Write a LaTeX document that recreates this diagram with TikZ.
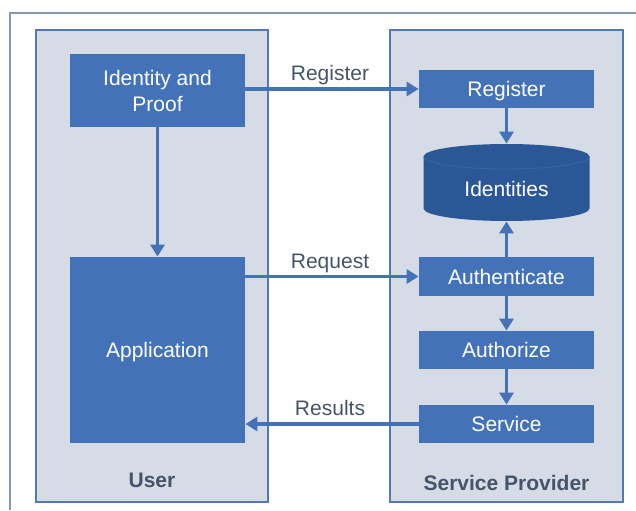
\documentclass[tikz,border=0pt]{standalone}
\usepackage{fontspec}
\setmainfont{Liberation Sans}
\usetikzlibrary{arrows.meta}
\definecolor{boxblue}{HTML}{4472B8}
\definecolor{cylblue}{HTML}{2B5797}
\definecolor{cylrim}{HTML}{3A64A6}
\definecolor{panelfill}{HTML}{D6DCE5}
\definecolor{panelline}{HTML}{5478B6}
\definecolor{labelgray}{HTML}{44546A}
\definecolor{framegray}{HTML}{8496B0}
\begin{document}
\begin{tikzpicture}[x=0.5pt,y=0.5pt,
    every node/.style={font=\fontsize{10.5}{13}\selectfont},
    panel/.style={draw=panelline,line width=0.6pt,fill=panelfill,minimum height=236pt,inner sep=0pt},
    block/.style={fill=boxblue,text=white,minimum width=87.5pt,inner sep=0pt,text depth=0pt,align=center},
    flow/.style={draw=boxblue,line width=1.8pt,-{Triangle[length=6pt,width=7pt]}},
    msg/.style={text=labelgray,anchor=base,yshift=4.2pt,xshift=-1pt,inner sep=0pt},
    caption/.style={text=labelgray,font=\fontsize{10.5}{13}\selectfont\bfseries}]
  \useasboundingbox (0,0) rectangle (636,510);
  \draw[framegray,line width=0.8pt] (10,0) -- (10,497) -- (636,497);
  % the two sides
  \node[panel,minimum width=116pt] (userpanel) at (152,244) {};
  \node[panel,minimum width=116.5pt] (sppanel) at (506.5,244) {};
  \node[caption] (userlbl) at (152,30) {User};
  \node[caption] (splbl) at (506.5,27) {Service Provider};
  % user side
  \node[block,minimum height=36.5pt] (idp) at (157.5,419.5) {Identity and\\Proof};
  \node[block,minimum height=93pt] (app) at (157.5,160) {Application};
  % provider side
  \node[block,minimum height=19pt] (reg) at (506.5,421) {Register};
  \node[text=white,minimum width=83pt,minimum height=38.5pt,inner sep=0pt,
    path picture={
      \fill[cylblue] ([yshift=-6.25pt]path picture bounding box.north west)
        -- ([yshift=6.25pt]path picture bounding box.south west)
        arc[start angle=180,end angle=360,x radius=41.5pt,y radius=6.25pt]
        -- ([yshift=-6.25pt]path picture bounding box.north east)
        arc[start angle=0,end angle=180,x radius=41.5pt,y radius=6.25pt] -- cycle;
      \draw[cylrim,line width=0.4pt] ([yshift=-6.25pt]path picture bounding box.north west)
        arc[start angle=180,end angle=360,x radius=41.5pt,y radius=6.25pt];
    }] (identities) at (506.5,327.5) {\raisebox{-3pt}[\height][\depth]{Identities}};
  \node[block,minimum height=19.5pt] (auth) at (506.5,233.5) {Authenticate};
  \node[block,minimum height=19pt] (authz) at (506.5,160) {Authorize};
  \node[block,minimum height=19pt] (svc) at (506.5,86) {Service};
  \path
    (idp) edge[flow] (app)
    (idp.east |- reg) edge[flow] node[msg] {Register} (reg)
    (app.east |- auth) edge[flow] node[msg] {Request} (auth)
    (svc) edge[flow] node[msg] {Results} (app.east |- svc)
    (reg) edge[flow] (identities)
    (auth) edge[flow] (identities)
    (auth) edge[flow] (authz)
    (authz) edge[flow] (svc);
\end{tikzpicture}
\end{document}
